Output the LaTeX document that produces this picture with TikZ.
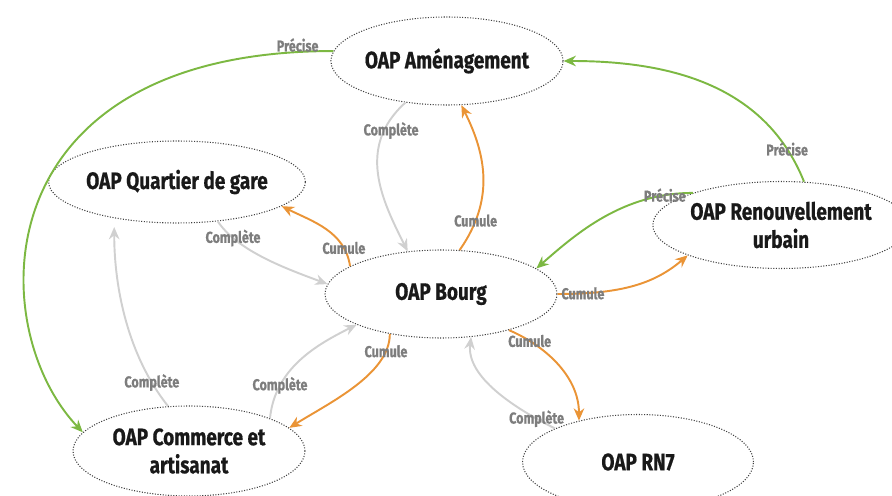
\documentclass[tikz,border=0pt]{standalone}
\usepackage{fontspec}
\setmainfont{Fira Sans}[FakeStretch=0.8, BoldFeatures={FakeBold=0.6}]
\usepackage{tikz}
\usetikzlibrary{arrows.meta, positioning, shapes.geometric}

\definecolor{oapgreen}{RGB}{124,184,66}
\definecolor{oaporange}{RGB}{234,148,54}
\definecolor{oapgray}{RGB}{208,208,208}
\definecolor{lblgray}{RGB}{125,125,125}

\begin{document}
\begin{tikzpicture}[x=0.02cm, y=-0.02cm,
    oap/.style={ellipse, draw=black!75, line width=0.6pt, dash pattern=on 0.6pt off 0.9pt,
      minimum width=4.64cm, minimum height=1.76cm, inner sep=0pt, align=center,
      font=\fontsize{13.5}{16}\selectfont\bfseries, text=black!90},
    link/.style={line width=1.1pt, -{Stealth[length=7pt, width=6pt]}},
    precise/.style={link, oapgreen},
    cumule/.style={link, oaporange},
    complete/.style={link, oapgray},
    lbl/.style={font=\fontsize{9}{10}\selectfont\bfseries, text=lblgray, inner sep=1pt},
    ]
    \useasboundingbox (0,0) rectangle (892,496);

    % OAPs
    \node[oap] (amen) at (447,61) {OAP Aménagement};
    \node[oap, minimum height=1.64cm] (gare) at (177,182) {OAP Quartier de gare};
    \node[oap, minimum width=4.4cm, minimum height=1.74cm] (renouv) at (781,225) {OAP Renouvellement\\urbain};
    \node[oap] (bourg) at (441,294) {OAP Bourg};
    \node[oap, minimum height=1.8cm] (commerce) at (189,451) {OAP Commerce et\\artisanat};
    \node[oap, minimum width=4.62cm, minimum height=1.9cm] (rn7) at (638,462) {OAP RN7};

    % Précise (green)
    \draw[precise] (amen.175) .. controls +(-352,0) and +(-100,-105) .. (commerce.170)
      node[lbl, pos=0.035, yshift=4pt] {Précise};
    \draw[precise] (renouv.62) .. controls +(-40,-100) and +(100,0) .. (amen.0)
      node[lbl, pos=0.12] {Précise};
    \draw[precise] (renouv.160) .. controls +(-70,0) and +(40,-35) .. (bourg.15)
      node[lbl, pos=0.14] {Précise};

    % Cumule (orange)
    \draw[cumule] (bourg.67) .. controls +(35,-50) and +(25,50) .. (amen.288)
      node[lbl, pos=0.2] {Cumule};
    \draw[cumule] (bourg.163) .. controls +(-5,-35) and +(30,15) .. (gare.-13)
      node[lbl, pos=0.2] {Cumule};
    \draw[cumule] (bourg.218) .. controls +(0,40) and +(40,-25) .. (commerce.13)
      node[lbl, pos=0.15] {Cumule};
    \draw[cumule] (bourg.0) .. controls +(60,0) and +(-35,30) .. (renouv.198)
      node[lbl, pos=0.15] {Cumule};
    \draw[cumule] (bourg.-28) .. controls +(35,15) and +(0,-45) .. (rn7.145)
      node[lbl, pos=0.2] {Cumule};

    % Complète (gray)
    \draw[complete] (amen.225) .. controls +(-50,45) and +(-25,-50) .. (bourg.128)
      node[lbl, pos=0.2, xshift=4pt] {Complète};
    \draw[complete] (gare.-44) .. controls +(20,30) and +(-40,-15) .. (bourg.175)
      node[lbl, pos=0.2] {Complète};
    \draw[complete, shorten >=5pt] (commerce.115) .. controls +(-40,-50) and +(0,70) .. (gare.-150)
      node[lbl, pos=0.15] {Complète};
    \draw[complete] (commerce.22) .. controls +(5,-50) and +(-40,20) .. (bourg.200)
      node[lbl, pos=0.25] {Complète};
    \draw[complete] (rn7.158) .. controls +(-40,-20) and +(-5,40) .. (bourg.-55)
      node[lbl, pos=0.15] {Complète};
  \end{tikzpicture}
\end{document}
